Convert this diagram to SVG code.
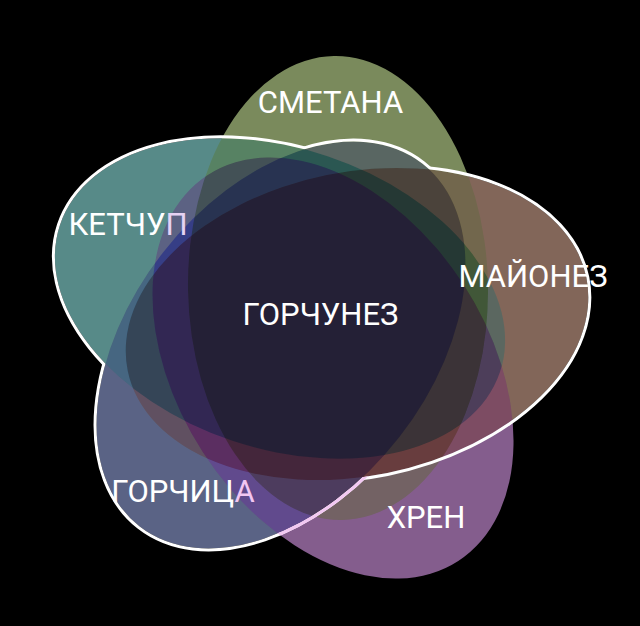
<svg xmlns="http://www.w3.org/2000/svg" width="640" height="626" viewBox="0 0 640 626">
  <defs>
    <style>
      .set { fill-opacity: 0.8; mix-blend-mode: multiply; }
      .lbl { font-family: Roboto, "Liberation Sans", sans-serif; font-size: 31px; fill: #ffffff; text-anchor: middle; }
      .edge { fill: none; stroke-width: 6; }
    </style>
    <filter id="fx" x="0" y="0" width="640" height="626" filterUnits="userSpaceOnUse" color-interpolation-filters="sRGB">
      <feColorMatrix in="SourceGraphic" type="matrix" values="1.9444 -0.858 -0.0864 0 0  -0.2556 1.342 -0.0864 0 0  -0.2556 -0.858 2.1136 0 0  0 0 0 1 0" result="sat"/>
      <feColorMatrix in="SourceGraphic" type="matrix" values="0 0 0 0 0  0 0 0 0 0  0 0 0 0 0  -1.5 -2.95 -0.55 0 2" result="dm"/>
      <feComponentTransfer in="dm" result="bm">
        <feFuncA type="linear" slope="-1" intercept="1"/>
      </feComponentTransfer>
      <feComposite in="sat" in2="dm" operator="in" result="a"/>
      <feComposite in="SourceGraphic" in2="bm" operator="in" result="b"/>
      <feComposite in="a" in2="b" operator="arithmetic" k1="0" k2="1" k3="1" k4="0" result="mix"/>
      <feComponentTransfer in="mix">
        <feFuncR type="table" tableValues="0.04 0.17 0.28 0.39 0.5 0.625 0.75 0.875 1"/>
        <feFuncG type="table" tableValues="0.01 0.14 0.26 0.38 0.5 0.625 0.75 0.875 1"/>
        <feFuncB type="table" tableValues="0.07 0.2 0.3 0.4 0.5 0.625 0.75 0.875 1"/>
      </feComponentTransfer>
    </filter>
    <ellipse id="eS" cx="338" cy="288" rx="232" ry="150" transform="rotate(-91 338 288)"/>
    <ellipse id="eM" cx="357" cy="324" rx="234" ry="152" transform="rotate(-11.5 357 324)"/>
    <ellipse id="eH" cx="333" cy="368" rx="230" ry="155" transform="rotate(57 333 368)"/>
    <ellipse id="eG" cx="281" cy="345" rx="230" ry="150" transform="rotate(128 281 345)"/>
    <ellipse id="eK" cx="280" cy="298.5" rx="232" ry="150" transform="rotate(18.5 280 298.5)"/>
    <mask id="outside" maskUnits="userSpaceOnUse" x="0" y="0" width="640" height="626">
      <rect width="640" height="626" fill="#fff"/>
      <use href="#eK" fill="#000"/>
      <use href="#eG" fill="#000"/>
      <use href="#eM" fill="#000"/>
    </mask>
    <clipPath id="inH">
      <use href="#eH"/>
    </clipPath>
  </defs>
  <rect width="640" height="626" fill="#000"/>
  <g id="sets" style="isolation:isolate" filter="url(#fx)">
    <g id="smetana"><use href="#eS" class="set" fill="#99ac70"/></g>
    <g id="ketchup"><use href="#eK" class="set" fill="#6cacaa"/></g>
    <g id="gorchica"><use href="#eG" class="set" fill="#707ca6"/></g>
    <g id="mayonez"><use href="#eM" class="set" fill="#a27f6c"/></g>
    <g id="hren"><use href="#eH" class="set" fill="#a574b0"/></g>
  </g>
  <g id="outline" mask="url(#outside)">
    <use href="#eK" class="edge" stroke="#fff"/>
    <use href="#eG" class="edge" stroke="#fff"/>
    <use href="#eM" class="edge" stroke="#fff"/>
  </g>
  <g clip-path="url(#inH)">
    <g mask="url(#outside)">
      <use href="#eG" class="edge" stroke="#f2c8f2"/>
    </g>
  </g>
  <g id="labels">
    <text class="lbl" x="330.5" y="113">СМЕТАНА</text>
    <text class="lbl" x="128" y="235">КЕТЧУ<tspan fill="#e6d2f4">П</tspan></text>
    <text class="lbl" x="533" y="287">МАЙОНЕЗ</text>
    <text class="lbl" x="320.5" y="325">ГОРЧУНЕЗ</text>
    <text class="lbl" x="183" y="502">ГОРЧИЦ<tspan fill="#f2c6f2">А</tspan></text>
    <text class="lbl" x="426" y="528" fill="#f8eefa">ХРЕН</text>
  </g>
</svg>
